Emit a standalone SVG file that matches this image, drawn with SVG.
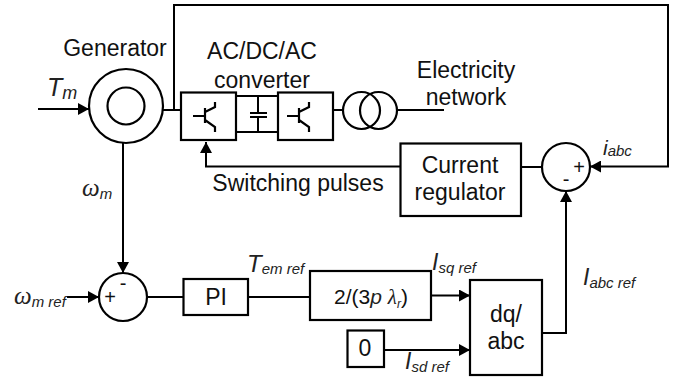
<svg xmlns="http://www.w3.org/2000/svg" width="686" height="378" viewBox="0 0 686 378">
<defs>
<marker id="arrow" markerUnits="userSpaceOnUse" markerWidth="11" markerHeight="12" refX="11" refY="6" orient="auto"><path d="M0,0 L11,6 L0,12 Z" fill="#000"/></marker>
<g id="igbt"><path d="M0,24 H12 M12,16 V31 M12,20 L22,15 V10 M12,28 L22,35 V40" class="thin"/></g>
</defs>
<style>
.s{fill:#fff;stroke:#000;stroke-width:2.2}
.n{fill:none;stroke:#000;stroke-width:2.2}
.thin{fill:none;stroke:#000;stroke-width:2.2}
.c{fill:none;stroke:#000;stroke-width:2}
.a{marker-end:url(#arrow)}
text{font-family:"Liberation Sans",Arial,sans-serif;font-size:23px;fill:#111}
.m{text-anchor:middle}
.i{font-style:italic;fill:#222}
.w{font-family:"Liberation Serif","Times New Roman",serif;font-style:italic;fill:#222}
.sub{font-size:15px}
.sign{font-size:20px}
</style>
<rect width="686" height="378" fill="#fff"/>
<g id="connectors">
<path class="c a" d="M38,109 H89"/>
<path class="c" d="M163,110 H181"/>
<path class="c a" d="M174,110 V5 H668 V166.500 H590"/>
<path class="c" d="M236,96 H278 M236,132 H278 M258,96 V113 M258,117 V132"/>
<path class="c" d="M333,110 H343"/>
<path class="c" d="M397,110 H444"/>
<path class="c" d="M542,167 H521"/>
<path class="c a" d="M400,166.500 H206 V142"/>
<path class="c a" d="M123,142 V273"/>
<path class="c a" d="M67,297 H99"/>
<path class="c" d="M147,297 H183"/>
<path class="c" d="M248,297 H310"/>
<path class="c a" d="M431,295.500 H470"/>
<path class="c a" d="M384,350 H470"/>
<path class="c a" d="M542,333 H566 V191"/>
</g>
<g id="generator">
<circle class="s" cx="126" cy="106" r="37"/>
<circle class="s" cx="126" cy="106" r="18.500"/>
<text x="115" y="56" class="m">Generator</text>
</g>
<g id="converter-label"><text x="262" y="59" class="m">AC/DC/AC</text><text x="262" y="88" class="m">converter</text></g>
<g id="rectifier"><rect class="s" x="181" y="92.500" width="55" height="47.500"/><use href="#igbt" x="193" y="92"/></g>
<g id="capacitor"><path class="c" d="M250,113 H267 M250,117 H267"/></g>
<g id="inverter"><rect class="s" x="278" y="92.500" width="55" height="47.500"/><use href="#igbt" x="287" y="92"/></g>
<g id="transformer"><circle class="n" cx="361.500" cy="110.500" r="18.500"/><circle class="n" cx="378.500" cy="110.500" r="18.500"/></g>
<g id="network-label"><text x="466" y="78" class="m">Electricity</text><text x="466" y="105" class="m">network</text></g>
<g id="current-regulator"><rect class="s" x="400.500" y="143.500" width="120.500" height="72.500"/><text x="460" y="173" class="m">Current</text><text x="460" y="200" class="m">regulator</text></g>
<g id="sum-current"><circle class="s" cx="566" cy="167" r="24"/><text x="579" y="174" class="m sign">+</text><text x="566" y="186" class="m sign">-</text></g>
<g id="switching-label"><text x="298" y="191" class="m">Switching pulses</text></g>
<g id="sum-speed"><circle class="s" cx="123" cy="297" r="24"/><text x="110" y="304" class="m sign">+</text><text x="123" y="290" class="m sign">-</text></g>
<g id="pi"><rect class="s" x="183.500" y="279" width="64.500" height="36"/><text x="216" y="305" class="m">PI</text></g>
<g id="gain"><rect class="s" x="310" y="271" width="121" height="49"/><text x="371" y="304" class="m" style="font-size:21px">2/(3<tspan class="i">p</tspan> <tspan class="w">λ</tspan><tspan class="i" dy="4" style="font-size:12px">r</tspan><tspan dy="-4">)</tspan></text></g>
<g id="zero"><rect class="s" x="347.500" y="330.500" width="36.500" height="36.500"/><text x="365" y="356" class="m">0</text></g>
<g id="dq-abc"><rect class="s" x="470" y="280" width="72" height="95"/><text x="506" y="322" class="m">dq/</text><text x="506" y="349" class="m">abc</text></g>
<g id="labels">
<text x="47" y="96" class="i" style="font-size:25px">T<tspan dy="3" style="font-size:18px">m</tspan></text>
<text x="82" y="196" class="w" style="font-size:25px">ω<tspan class="i" dy="3" style="font-size:15px;font-family:'Liberation Sans',sans-serif">m</tspan></text>
<text x="14" y="304" class="w" style="font-size:25px">ω<tspan class="i" dy="3" style="font-size:15px;font-family:'Liberation Sans',sans-serif">m ref</tspan></text>
<text x="247" y="272" class="i" style="font-size:24px">T<tspan dy="2" class="sub">em ref</tspan></text>
<text x="432" y="270" class="i" style="font-size:23px">I<tspan dy="3" class="sub">sq ref</tspan></text>
<text x="405" y="369" class="i" style="font-size:23px">I<tspan dy="3" class="sub">sd ref</tspan></text>
<text x="583" y="285" class="i" style="font-size:23px">I<tspan dy="3" class="sub">abc ref</tspan></text>
<text x="603" y="155" class="i" style="font-size:21px">i<tspan dy="1" class="sub">abc</tspan></text>
</g>
</svg>
